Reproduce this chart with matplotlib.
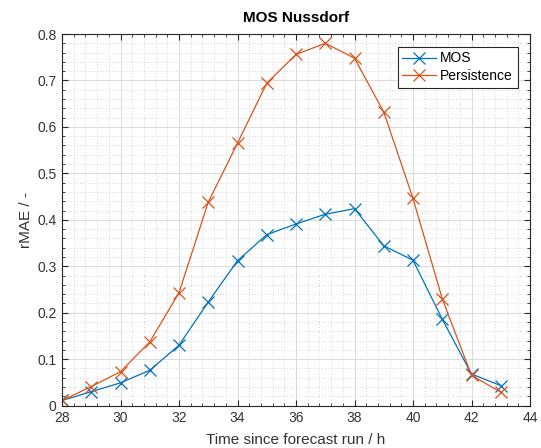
import matplotlib.pyplot as plt
from matplotlib.ticker import MultipleLocator

# data
hours = [28, 29, 30, 31, 32, 33, 34, 35, 36, 37, 38, 39, 40, 41, 42, 43]
mos = [0.011, 0.030, 0.049, 0.076, 0.130, 0.223, 0.312, 0.368, 0.391, 0.412,
       0.424, 0.344, 0.313, 0.186, 0.068, 0.043]
persistence = [0.011, 0.041, 0.073, 0.137, 0.243, 0.438, 0.565, 0.694, 0.756,
               0.780, 0.748, 0.632, 0.446, 0.230, 0.065, 0.029]
xticks = [28, 30, 32, 34, 36, 38, 40, 42, 44]
yticks = [0, 0.1, 0.2, 0.3, 0.4, 0.5, 0.6, 0.7, 0.8]
ytick_labels = ['0', '0.1', '0.2', '0.3', '0.4', '0.5', '0.6', '0.7', '0.8']

plt.rcParams['font.family'] = ['Liberation Sans', 'DejaVu Sans']

fig = plt.figure(figsize=(5.41, 4.48), dpi=100)
ax = fig.add_axes([62 / 541, 1 - 405.6 / 448, (530 - 62) / 541, (405.6 - 34) / 448])

ax.plot(hours, mos, color='#0072BD', marker='x', markersize=9, linewidth=0.9,
        markeredgewidth=0.9, label='MOS')
ax.plot(hours, persistence, color='#D95319', marker='x', markersize=9, linewidth=0.9,
        markeredgewidth=0.9, label='Persistence')

ax.set_xlim(28, 44)
ax.set_ylim(0, 0.8)
ax.set_xticks(xticks)
ax.set_yticks(yticks, ytick_labels)
ax.xaxis.set_minor_locator(MultipleLocator(0.4))
ax.yaxis.set_minor_locator(MultipleLocator(0.02))

# matlab-like grid
ax.grid(True, which='major', color='#dcdcdc', linewidth=0.8, linestyle='-')
ax.grid(True, which='minor', color='#c8c8c8', linewidth=0.6, linestyle=(0, (1, 2.5)))
ax.set_axisbelow(True)

ax.tick_params(which='both', direction='in', top=True, right=True, color='#262626',
               labelsize=10, labelcolor='#333333')
ax.tick_params(which='major', length=4, pad=4)
ax.tick_params(which='minor', length=2)
for s in ax.spines.values():
    s.set_color('#262626')
    s.set_linewidth(0.8)

ax.set_title('MOS Nussdorf', fontsize=11, fontweight='bold', pad=9)
ax.set_xlabel('Time since forecast run / h', fontsize=11, color='#333333', labelpad=6)
ax.set_ylabel('rMAE / -', fontsize=11, color='#333333', labelpad=3)

leg = ax.legend(loc='upper right', fontsize=10, fancybox=False, framealpha=1,
                edgecolor='#262626', handlelength=2.4, borderaxespad=0.9,
                labelspacing=0.25, borderpad=0.35, handletextpad=0.3)
leg.get_frame().set_linewidth(0.8)

plt.savefig('out.png', dpi=100)
